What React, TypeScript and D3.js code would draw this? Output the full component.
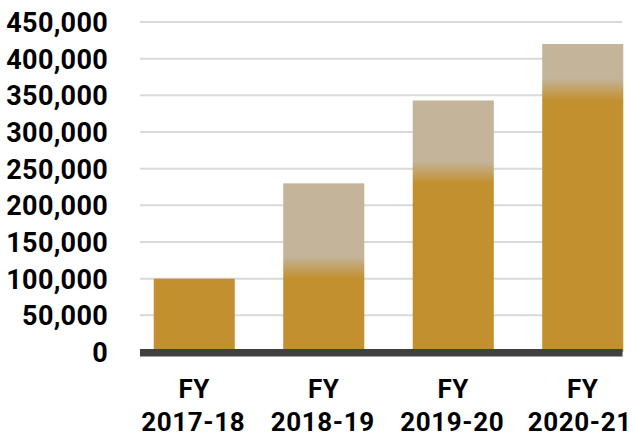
import * as d3 from 'd3';

const categories = ['FY 2017-18', 'FY 2018-19', 'FY 2019-20', 'FY 2020-21'];
// total reached each year
const totals = [100000, 230000, 343000, 420000];
// carried over from the year before (solid gold part)
const carried = [100000, 100000, 230000, 343000];
const yTicks = [0, 50000, 100000, 150000, 200000, 250000, 300000, 350000, 400000, 450000];

const W = 633, H = 436;
const GOLD = '#C3902F';
const BEIGE = '#C3B49A';

export default function App() {
  const y = d3.scaleLinear().domain([0, 450000]).range([352, 22]);
  const x = d3.scaleBand<string>().domain(categories).range([129.5, 647.5]).paddingInner(0.374).paddingOuter(0.187);
  const fmt = d3.format(',');
  const gridX0 = 140, gridX1 = 622.5;
  const fade = 22;

  return (
    <svg width={W} height={H} style={{ position: 'absolute', left: 0, top: 0, fontFamily: 'Roboto, sans-serif' }}>
      <defs>
        {categories.map((c, i) => (
          <linearGradient key={c} id={`g${i}`} gradientUnits="userSpaceOnUse" x1={0} x2={0}
            y1={y(carried[i])} y2={y(carried[i]) - fade}>
            <stop offset="0" stopColor={GOLD} />
            <stop offset="1" stopColor={BEIGE} />
          </linearGradient>
        ))}
      </defs>

      {yTicks.filter((t) => t > 0).map((t) => (
        <line key={t} x1={gridX0} x2={gridX1} y1={y(t)} y2={y(t)} stroke="#D9D9D9" strokeWidth={2} />
      ))}

      {categories.map((c, i) => (
        <rect key={c} x={x(c)} y={y(totals[i])} width={x.bandwidth()} height={y(0) - y(totals[i])}
          fill={`url(#g${i})`} />
      ))}

      <rect x={gridX0} y={y(0) - 3} width={gridX1 - gridX0} height={7.5} fill="#404040" />

      {yTicks.map((t) => (
        <text key={t} x={108} y={y(t) + 1} textAnchor="end" dominantBaseline="central"
          fontSize={27} fontWeight={700} letterSpacing={0.3} fill="#000">{fmt(t)}</text>
      ))}

      {categories.map((c, i) => {
        const [a, b] = c.split(' ');
        const cx = (x(c) as number) + x.bandwidth() / 2;
        // keep the last label inside the right edge
        const nudge = i === categories.length - 1 ? -3 : -1;
        return (
          <text key={c} textAnchor="middle" fontSize={26} fontWeight={700} letterSpacing={0.6} fill="#000">
            <tspan x={cx} y={398}>{a}</tspan>
            <tspan x={cx + nudge} y={431}>{b}</tspan>
          </text>
        );
      })}
    </svg>
  );
}
